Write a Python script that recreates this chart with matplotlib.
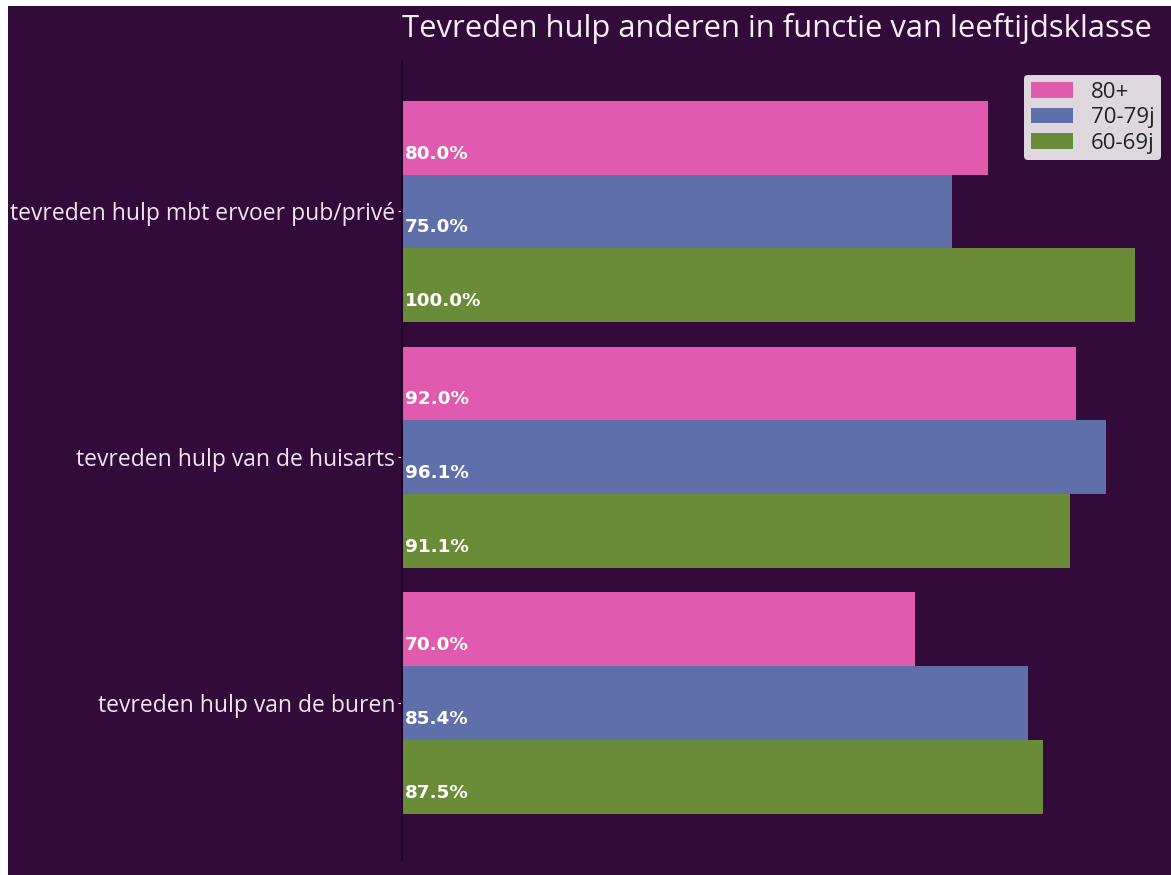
import matplotlib.pyplot as plt
import matplotlib.patches as mpatches
import numpy as np

# data
categories = ["tevreden hulp van de buren", "tevreden hulp van de huisarts",
              "tevreden hulp mbt ervoer pub/privé"]
groups = ["80+", "70-79j", "60-69j"]
vals_80 = [70.0, 92.0, 80.0]
vals_70 = [85.4, 96.1, 75.0]
vals_60 = [87.5, 91.1, 100.0]

colors = ['#e05aad', '#5f6faa', '#6a8c38']
bg = '#330b3a'

fig = plt.figure(figsize=(11.71, 8.75), dpi=100, facecolor=bg)
ax = fig.add_axes([402 / 1171, 15 / 875, 763 / 1171, 798 / 875])
ax.set_facecolor(bg)

# white page margins around the screenshot
fig.patches.append(mpatches.Rectangle((0, 0), 8 / 1171, 1, transform=fig.transFigure,
                                      facecolor='white', edgecolor='none', zorder=10))
fig.patches.append(mpatches.Rectangle((0, 1 - 6 / 875), 1, 6 / 875, transform=fig.transFigure,
                                      facecolor='white', edgecolor='none', zorder=10))

y = np.arange(len(categories))
h = 0.3
series = [vals_80, vals_70, vals_60]
offsets = [h, 0, -h]
for vals, off, col, lab in zip(series, offsets, colors, groups):
    ax.barh(y + off, vals, height=h, color=col, label=lab, linewidth=0)
    for yi, v in zip(y, vals):
        ax.text(0.4, yi + off - 0.065, f"{v:.1f}%", color='white', fontsize=13.2,
                fontweight='bold', family='DejaVu Sans', va='center', ha='left')

ax.set_xlim(0, 104.1)
ax.set_ylim(-0.639, 2.608)
ax.set_yticks(y)
ax.set_yticklabels(categories, fontsize=16.5, color='#f2e4f0', family='Open Sans')
ax.tick_params(axis='y', length=3, color='#f2e4f0', pad=2)
ax.set_xticks([])
for s in ['top', 'right', 'bottom']:
    ax.spines[s].set_visible(False)
ax.spines['left'].set_color('#22062a')
ax.spines['left'].set_linewidth(1.5)

fig.text(777 / 1171, 1 - 28 / 875, "Tevreden hulp anderen in functie van leeftijdsklasse",
         fontsize=22.3, color='#f4eef4', family='Open Sans', ha='center', va='center')

leg = ax.legend(loc='upper right', bbox_to_anchor=(1161 / 1171, 1 - 75 / 875),
                bbox_transform=fig.transFigure,
                prop={'family': 'Open Sans', 'size': 16},
                facecolor='#e8e4e8', framealpha=0.95, edgecolor='none',
                borderaxespad=0, handlelength=1.9, labelspacing=0.2,
                borderpad=0.3, handletextpad=0.8)
for t in leg.get_texts():
    t.set_color('#222222')

fig.savefig('out.png', dpi=100, facecolor=bg)
